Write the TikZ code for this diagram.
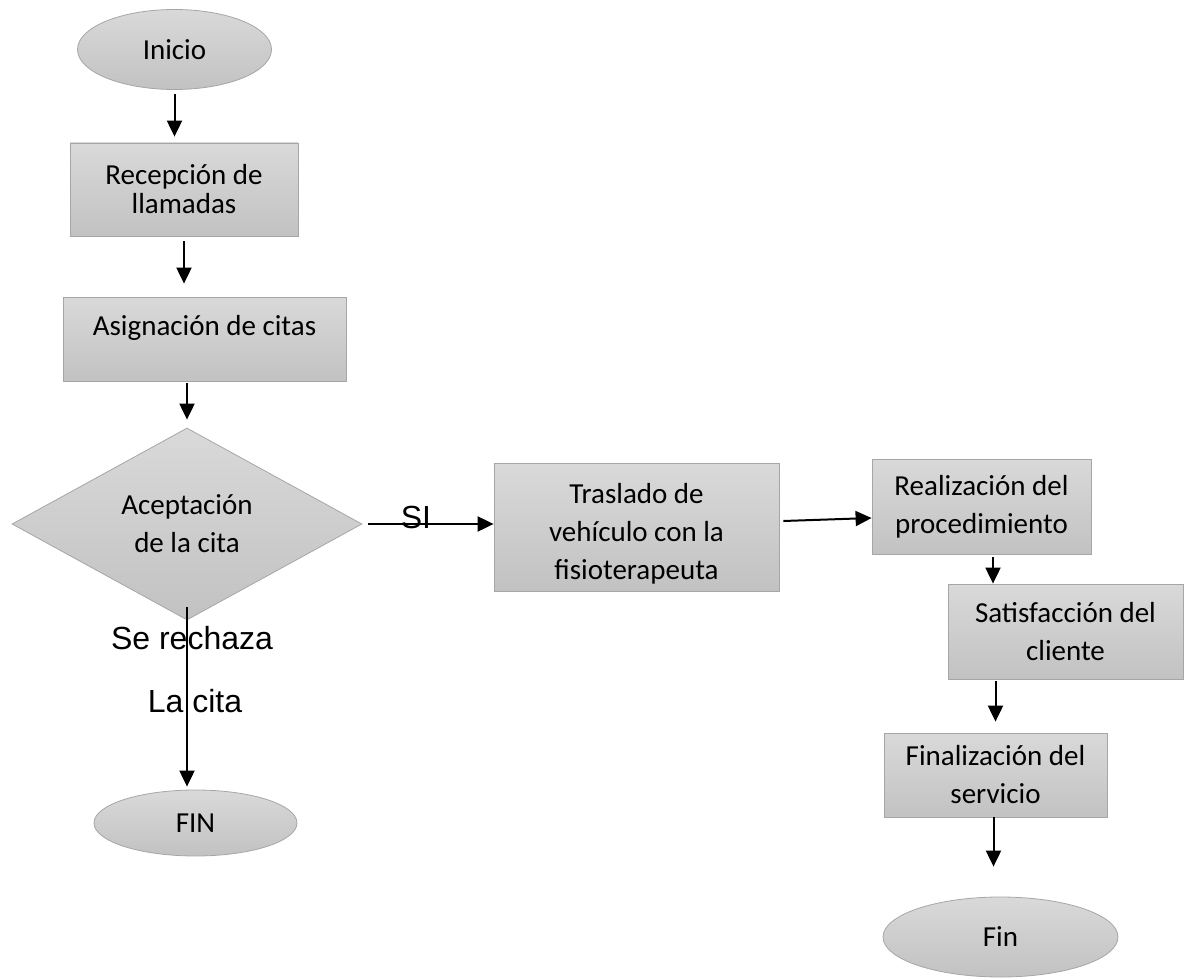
\documentclass[tikz,border=0pt]{standalone}
\usepackage{fontspec}
\setmainfont{Carlito}
\newfontfamily\labelfont{Liberation Sans}
\usepackage{tikz}
\usetikzlibrary{arrows.meta,positioning,shapes.geometric}
\definecolor{boxedge}{HTML}{A6A6A6}
\definecolor{boxtop}{HTML}{D9D9D9}
\definecolor{boxbot}{HTML}{C2C2C2}

\begin{document}
\begin{tikzpicture}[
  x=0.5pt, y=-0.5pt,
  font=\fontsize{14.5}{19}\selectfont,
  proc/.style={draw=boxedge, top color=boxtop, bottom color=boxbot, align=center, inner sep=0pt},
  term/.style={proc, ellipse},
  decis/.style={proc, diamond, shape aspect=1.82},
  lbl/.style={font=\labelfont\fontsize{16}{19}\selectfont, inner sep=0pt},
  conn/.style={->, line width=1pt},
  >={Triangle[length=8pt,width=7.5pt]}]
  \useasboundingbox (0,0) rectangle (1184,979);
  % left column
  \node[term, minimum width=97pt, minimum height=40pt] (inicio) at (174.5,49.5) {Inicio};
  \node[proc, minimum width=114pt, minimum height=46.5pt, font=\fontsize{14.5}{14.5}\selectfont] (recep) at (184,189.5) {Recepción de\\llamadas};
  \node[proc, minimum width=141.5pt, minimum height=42pt] (asig) at (204.5,339) {\raisebox{5.5pt}[\height][\depth]{Asignación de citas}};
  \node[decis, minimum width=175pt, minimum height=96pt] (acep) at (187,524) {Aceptación\\de la cita};
  \node[term, minimum width=101.5pt, minimum height=33pt] (fin1) at (195.5,823) {FIN};
  % right part
  \node[proc, minimum width=142.5pt, minimum height=64pt] (trasl) at (636.5,527) {\raisebox{-3.5pt}[\height][\depth]{\begin{tabular}{@{}c@{}}Traslado de\\vehículo con la\\fisioterapeuta\end{tabular}}};
  \node[proc, minimum width=109.5pt, minimum height=47.5pt] (realiz) at (981.5,506.5) {Realización del\\procedimiento};
  \node[proc, minimum width=117.5pt, minimum height=47.5pt] (satisf) at (1065.5,631.5) {Satisfacción del\\cliente};
  \node[proc, minimum width=111.5pt, minimum height=42pt] (final) at (995.5,775) {Finalización del\\servicio};
  \node[term, minimum width=117.5pt, minimum height=40pt] (fin2) at (1000.5,937) {Fin};

  \draw[conn] ([yshift=-2pt]inicio.south) -- ([yshift=3pt]inicio.south |- recep.north);
  \draw[conn] ([yshift=-2.5pt]recep.south) -- ([yshift=6.5pt]recep.south |- asig.north);
  \draw[conn] ([yshift=-1pt]acep.north |- asig.south) -- ([yshift=4pt]acep.north);
  \draw[conn] ([xshift=3pt]acep.east) -- (acep.east -| trasl.west)
    node[lbl, pos=0.38, yshift=3.5pt] {SI};
  \draw[conn] ([yshift=6.5pt]acep.south) -- ([yshift=1.5pt]acep.south |- fin1.north)
    node[lbl, pos=0.17, xshift=2.5pt] {Se rechaza}
    node[lbl, pos=0.52, xshift=4pt] {La cita};
  \draw[conn] ([xshift=2pt,yshift=3pt]trasl.east) -- ([yshift=-5.75pt]realiz.west);
  \draw[conn] ([xshift=5.75pt,yshift=-1.5pt]realiz.south) -- ([xshift=5.75pt]realiz.south |- satisf.north);
  \draw[conn] ([yshift=-1pt]final.north |- satisf.south) -- ([yshift=5.5pt]final.north);
  \draw[conn] ([xshift=-1pt]final.south) -- ([xshift=-1pt,yshift=15pt]final.south |- fin2.north);
\end{tikzpicture}
\end{document}
